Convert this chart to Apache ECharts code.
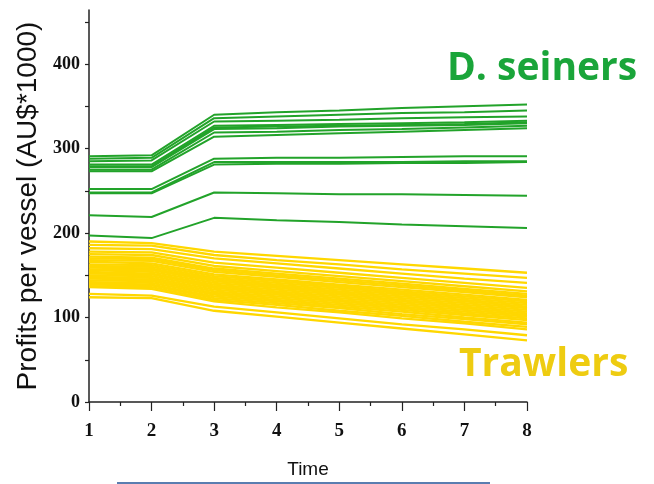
<!DOCTYPE html>
<html>
<head>
<meta charset="utf-8">
<script src="https://cdn.jsdelivr.net/npm/echarts@6.0.0/dist/echarts.min.js"></script>
<style>
  html, body { margin: 0; padding: 0; background: #ffffff; }
  #chart { width: 654px; height: 484px; }
</style>
</head>
<body>
<div id="chart"></div>
<script>
// time steps on the x axis
const timeSteps = [1, 2, 3, 4, 5, 6, 7, 8];

// y axis labels and tick marks
const yLabelValues = [0, 100, 200, 300, 400];
const yTickValues = [0, 50, 100, 150, 200, 250, 300, 350, 400, 450];

// D. seiners, profit per vessel (AU$*1000), one row per vessel
const seinerProfits = [
  [291, 292, 340, 343, 345, 348, 350, 352],
  [288, 289, 336, 338, 340, 342, 343, 345],
  [285, 286, 332, 333, 334, 336, 337, 338],
  [281, 281, 327, 328, 329, 330, 331, 333],
  [279, 279, 325, 326, 327, 328, 329, 331],
  [278, 278, 323, 324, 326, 327, 328, 330],
  [275, 275, 319, 320, 322, 323, 325, 327],
  [273, 273, 314, 316, 318, 320, 322, 324],
  [252, 252, 288, 289, 289, 290, 291, 291],
  [248, 248, 284, 284, 284, 284, 285, 285],
  [247, 247, 281, 282, 282, 283, 283, 284],
  [221, 219, 248, 247, 246, 246, 245, 244],
  [197, 194, 218, 215, 213, 210, 208, 206]
];

// Trawlers, profit per vessel (AU$*1000)
const trawlerProfits = [
  [190, 188, 178, 173, 168, 163, 158, 153],
  [186, 185, 174, 168, 163, 157, 152, 147],
  [182, 181, 170, 164, 158, 152, 146, 141],
  [178, 177, 165, 159, 153, 147, 141, 135],
  [175, 174, 161, 155, 149, 143, 137, 131],
  [172, 171, 158, 152, 146, 140, 134, 128],
  [170, 169, 156, 150, 144, 138, 132, 126],
  [168, 167, 154, 148, 142, 136, 130, 124],
  [166, 164, 151, 145, 139, 133, 127, 121],
  [163, 162, 149, 143, 137, 131, 125, 119],
  [161, 160, 147, 141, 135, 129, 123, 117],
  [159, 158, 145, 139, 133, 127, 121, 115],
  [157, 156, 143, 137, 131, 125, 119, 113],
  [156, 154, 141, 135, 129, 123, 117, 111],
  [154, 152, 139, 133, 127, 121, 115, 109],
  [152, 151, 137, 131, 125, 119, 113, 107],
  [150, 149, 135, 129, 123, 117, 111, 105],
  [148, 147, 133, 127, 121, 115, 109, 103],
  [146, 145, 131, 125, 119, 113, 107, 101],
  [144, 143, 129, 123, 117, 111, 105, 99],
  [142, 141, 127, 121, 115, 109, 103, 97],
  [141, 139, 125, 119, 113, 107, 100, 94],
  [139, 138, 123, 117, 111, 104, 98, 92],
  [137, 136, 121, 115, 108, 102, 95, 89],
  [136, 134, 119, 112, 106, 99, 93, 86],
  [128, 126, 113, 106, 99, 92, 86, 79],
  [124, 123, 108, 101, 94, 87, 80, 73]
];

const seinerColor = '#22a32a';
const trawlerColor = '#ffd700';

function toLine(values, color, width) {
  return {
    type: 'line',
    data: timeSteps.map((t, i) => [t, values[i]]),
    symbol: 'none',
    silent: true,
    lineStyle: { color: color, width: width }
  };
}

const chart = echarts.init(document.getElementById('chart'), null, { renderer: 'canvas' });

const option = {
  animation: false,
  backgroundColor: '#ffffff',
  grid: { left: 89, right: 127, top: 10, bottom: 82 },
  xAxis: {
    type: 'value',
    min: 1,
    max: 8,
    interval: 1,
    name: 'Time',
    nameLocation: 'middle',
    nameGap: 58,
    nameTextStyle: { fontFamily: 'Liberation Sans', fontSize: 19, color: '#111' },
    splitLine: { show: false },
    axisLine: { show: true, lineStyle: { color: '#222', width: 1.5 } },
    axisTick: { show: true, length: 9, lineStyle: { color: '#222', width: 1.2 } },
    minorTick: { show: true, splitNumber: 2, length: 4, lineStyle: { color: '#222', width: 1.2 } },
    axisLabel: {
      margin: 20,
      fontFamily: 'Liberation Serif',
      fontWeight: 'bold',
      fontSize: 19,
      color: '#111'
    }
  },
  yAxis: {
    type: 'value',
    min: 0,
    max: 464,
    interval: 100,
    name: 'Profits per vessel (AU$*1000)',
    nameLocation: 'middle',
    nameRotate: 90,
    nameGap: 47,
    nameTextStyle: { fontFamily: 'Liberation Sans', fontSize: 28, color: '#111' },
    splitLine: { show: false },
    axisLine: { show: true, lineStyle: { color: '#222', width: 1.5 } },
    axisTick: {
      show: true,
      length: 4,
      customValues: yTickValues,
      lineStyle: { color: '#222', width: 1.2 }
    },
    axisLabel: {
      margin: 9,
      customValues: yLabelValues,
      fontFamily: 'Liberation Serif',
      fontWeight: 'bold',
      fontSize: 18,
      color: '#111'
    }
  },
  series: [
    ...trawlerProfits.map(v => toLine(v, trawlerColor, 2.3)),
    ...seinerProfits.map(v => toLine(v, seinerColor, 2))
  ],
  graphic: [
    {
      type: 'text',
      left: 447,
      top: 49,
      style: {
        text: 'D. seiners',
        font: 'bold 39px "Open Sans"',
        fill: '#1aa53a'
      }
    },
    {
      type: 'text',
      left: 459,
      top: 345,
      style: {
        text: 'Trawlers',
        font: 'bold 39px "Open Sans"',
        fill: '#eecc11'
      }
    },
    {
      type: 'rect',
      shape: { x: 117, y: 482, width: 373, height: 2 },
      style: { fill: '#5a7db0' }
    }
  ]
};

chart.setOption(option);
</script>
</body>
</html>
